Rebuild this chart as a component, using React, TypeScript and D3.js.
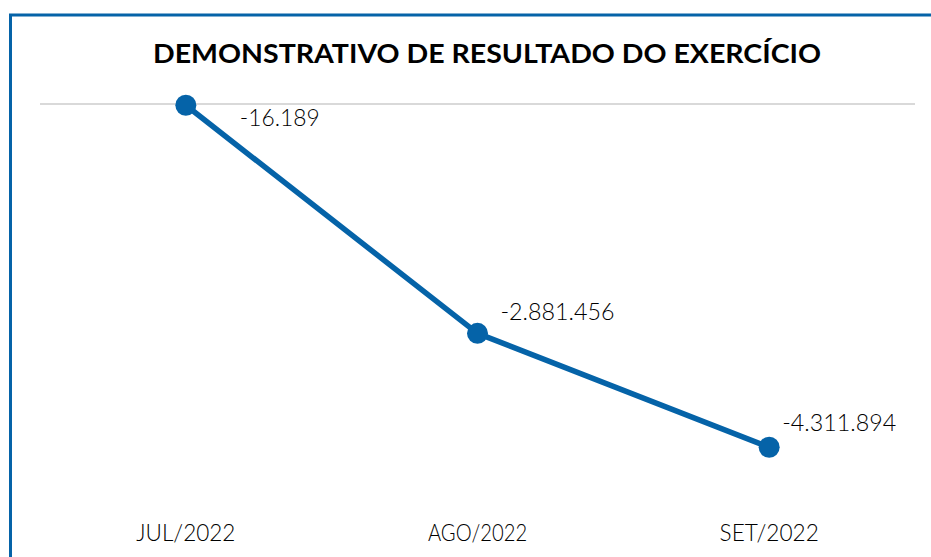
import React, { useRef, useEffect } from 'react';
import * as d3 from 'd3';

const MONTHS = ['JUL/2022', 'AGO/2022', 'SET/2022'];
const RESULTS = [-16189, -2881456, -4311894];
const Y_DOMAIN = [-5000000, 0];
const TITLE = 'DEMONSTRATIVO DE RESULTADO DO EXERCÍCIO';

// label placement (style, not data)
const LABEL_DX = [54, 23, 13];
const LABEL_DY = [21, -13, -16];

const fmt = (v: number) => d3.format(',')(v).replace(/,/g, '.').replace('−', '-');

export default function App() {
  const svgRef = useRef<SVGSVGElement | null>(null);

  useEffect(() => {
    document.body.style.margin = '0';
    if (!svgRef.current) return;
    const width = 931, height = 557;
    const margin = { top: 104, right: 16, bottom: 55, left: 40 };
    const svg = d3.select(svgRef.current);
    svg.selectAll('*').remove();
    const font = 'Lato, "Open Sans", sans-serif';
    const blue = '#0563A8';

    svg.append('rect').attr('width', width).attr('height', height).attr('fill', '#fff');
    // frame (right/bottom edges fall outside the picture)
    svg.append('rect').attr('x', 10.5).attr('y', 15).attr('width', width + 20).attr('height', height + 20)
      .attr('fill', 'none').attr('stroke', blue).attr('stroke-width', 3);

    svg.append('text').attr('x', 487).attr('y', 63).attr('text-anchor', 'middle')
      .attr('font-family', font).attr('font-weight', 700).attr('font-size', 27).attr('fill', '#000')
      .attr('textLength', 668).attr('lengthAdjust', 'spacingAndGlyphs').text(TITLE);

    const x = d3.scaleBand().domain(MONTHS).range([margin.left, width - margin.right]);
    const y = d3.scaleLinear().domain(Y_DOMAIN).range([height - margin.bottom, margin.top]);

    svg.append('line').attr('x1', x.range()[0]).attr('x2', x.range()[1]).attr('y1', y(0)).attr('y2', y(0))
      .attr('stroke', '#d9d9d9').attr('stroke-width', 2);

    const pts = MONTHS.map((m, i) => ({ m, v: RESULTS[i], i }));
    const cx = (d: { m: string }) => (x(d.m) ?? 0) + x.bandwidth() / 2;

    const line = d3.line<{ m: string; v: number }>().x(cx).y(d => y(d.v));
    svg.append('path').datum(pts).attr('d', line).attr('fill', 'none')
      .attr('stroke', blue).attr('stroke-width', 5.5).attr('stroke-linejoin', 'round');

    svg.selectAll('circle.pt').data(pts).enter().append('circle').attr('class', 'pt')
      .attr('cx', cx).attr('cy', d => y(d.v)).attr('r', 10.5).attr('fill', blue);

    svg.selectAll('text.lbl').data(pts).enter().append('text').attr('class', 'lbl')
      .attr('x', d => cx(d) + LABEL_DX[d.i])
      .attr('y', d => y(d.v) + LABEL_DY[d.i])
      .attr('font-family', font).attr('font-weight', 300).attr('font-size', 22.5).attr('fill', '#000')
      .attr('textLength', d => fmt(d.v).length * 11.4).attr('lengthAdjust', 'spacingAndGlyphs')
      .text(d => fmt(d.v));

    svg.selectAll('text.xl').data(MONTHS).enter().append('text').attr('class', 'xl')
      .attr('x', d => (x(d) ?? 0) + x.bandwidth() / 2).attr('y', 541).attr('text-anchor', 'middle')
      .attr('font-family', font).attr('font-weight', 300).attr('font-size', 22.5).attr('fill', '#000')
      .attr('textLength', d => d.length * 12.4).attr('lengthAdjust', 'spacingAndGlyphs')
      .text(d => d);
  }, []);

  return <svg ref={svgRef} width={931} height={557} style={{ display: 'block' }} />;
}
